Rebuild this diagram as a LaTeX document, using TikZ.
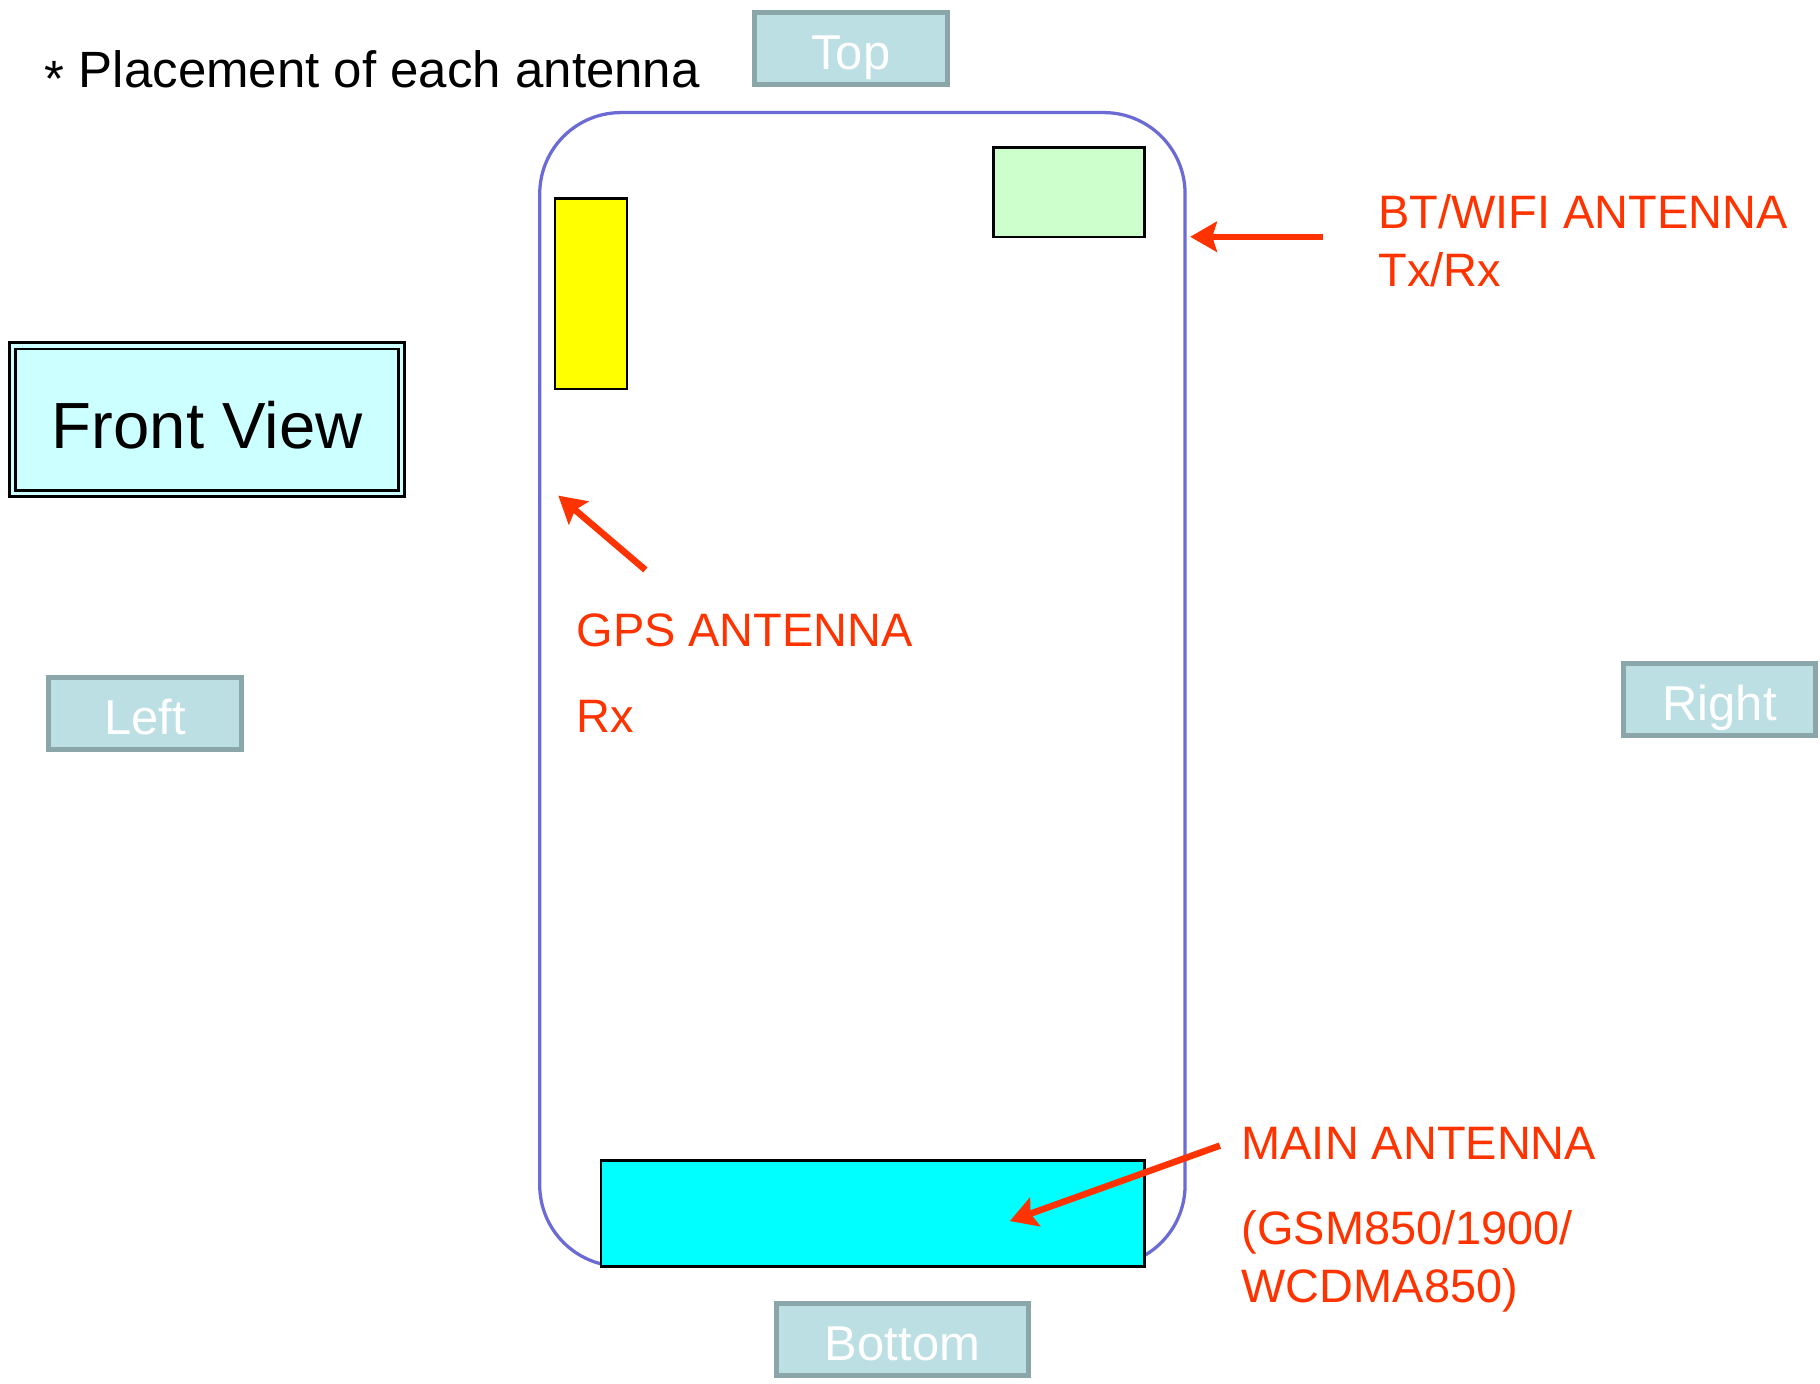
\documentclass[tikz,border=0pt]{standalone}
\usepackage{fontspec}
\setmainfont{Liberation Sans}
\usepackage{xcolor}
\usepackage{tikz}
\usetikzlibrary{arrows.meta}
\usetikzlibrary{calc,positioning}

\definecolor{sidefill}{RGB}{187,223,227}
\definecolor{sideedge}{RGB}{139,166,168}
\definecolor{frontfill}{RGB}{204,255,255}
\definecolor{phoneline}{RGB}{107,107,214}
\definecolor{gpsyellow}{RGB}{255,255,0}
\definecolor{btgreen}{RGB}{204,255,204}
\definecolor{maincyan}{RGB}{0,255,255}
\definecolor{antred}{RGB}{255,51,0}

\tikzset{
    sidebox/.style={draw=sideedge, fill=sidefill, line width=1.2pt, text=white,
        minimum height=6.2mm, inner sep=0pt, text height=3.6mm, text depth=0pt,
        font=\fontsize{12}{14}\selectfont},
    antbox/.style={draw=black, line width=0.6pt, inner sep=0pt},
    antlabel/.style={text=antred, anchor=base west, align=left, inner sep=0pt,
        font=\fontsize{11.5}{14.2}\selectfont},
    antarrow/.style={draw=antred, line width=1.6pt,
        -{Stealth[length=2.3mm,width=2.6mm,inset=0.4mm]}},
}

\begin{document}
\begin{tikzpicture}[x=0.1mm,y=-0.1mm]

    \useasboundingbox (0,0) rectangle (1568,1192);

    % Titel
    \node[anchor=base west, inner sep=0pt, font=\fontsize{12.5}{15}\selectfont] (title) at (38,75)
        {\raisebox{-0.35ex}{*} Placement of each antenna};

    % Front view
    \node[draw=black, line width=0.7pt, double=frontfill, double distance=0.8pt, fill=frontfill,
        minimum width=33.5mm, minimum height=12.7mm, text height=5mm, text depth=0pt,
        font=\fontsize{16}{19}\selectfont] (front) at (178.5,361.5) {Front View};

    % Toestel
    \node[draw=phoneline, line width=0.8pt, rounded corners=7mm,
        minimum width=55.6mm, minimum height=99.4mm] (phone) at (743,594) {};

    % Antennes
    \node[antbox, fill=gpsyellow, minimum width=6.2mm, minimum height=16.4mm] (gps) at (509,253) {};
    \node[antbox, fill=btgreen, minimum width=13mm, minimum height=7.7mm] (bt) at (921,165.5) {};
    \node[antbox, fill=maincyan, minimum width=46.8mm, minimum height=9.1mm] (main) at (752,1045.5) {};

    % Zijden
    \foreach \name/\px/\py/\txt/\w in {sidetop/733/42/Top/16.6, sideleft/125/615/Left/16.6,
            sideright/1481.5/602.5/Right/16.5, sidebottom/777.5/1154/Bottom/21.7} {
        \node[sidebox, minimum width=\w mm] (\name) at (\px,\py) {\txt};
    }

    % Labels (basislijn = laatste regel)
    \node[antlabel] (btlabel) at (1187,247) {BT/WIFI ANTENNA\\Tx/Rx};
    \node[antlabel] (gpslabel) at (496,631) {GPS ANTENNA\\[6.8pt]Rx};
    \node[antlabel] (mainlabel) at (1069,1122) {MAIN ANTENNA\\[6.6pt](GSM850/1900/\\WCDMA850)};

    % Pijlen
    \coordinate (bttail) at (1140,204);
    \coordinate (gpstail) at (556,491);
    \coordinate (gpstip) at (481,427);
    \coordinate (maintail) at (1051,987);
    \coordinate (maintip) at (870,1052);
    \draw[antarrow] (bttail) -- ([xshift=0.3mm]bttail -| phone.east);
    \draw[antarrow] (gpstail) -- (gpstip);
    \draw[antarrow] (maintail) -- (maintip);

\end{tikzpicture}
\end{document}
